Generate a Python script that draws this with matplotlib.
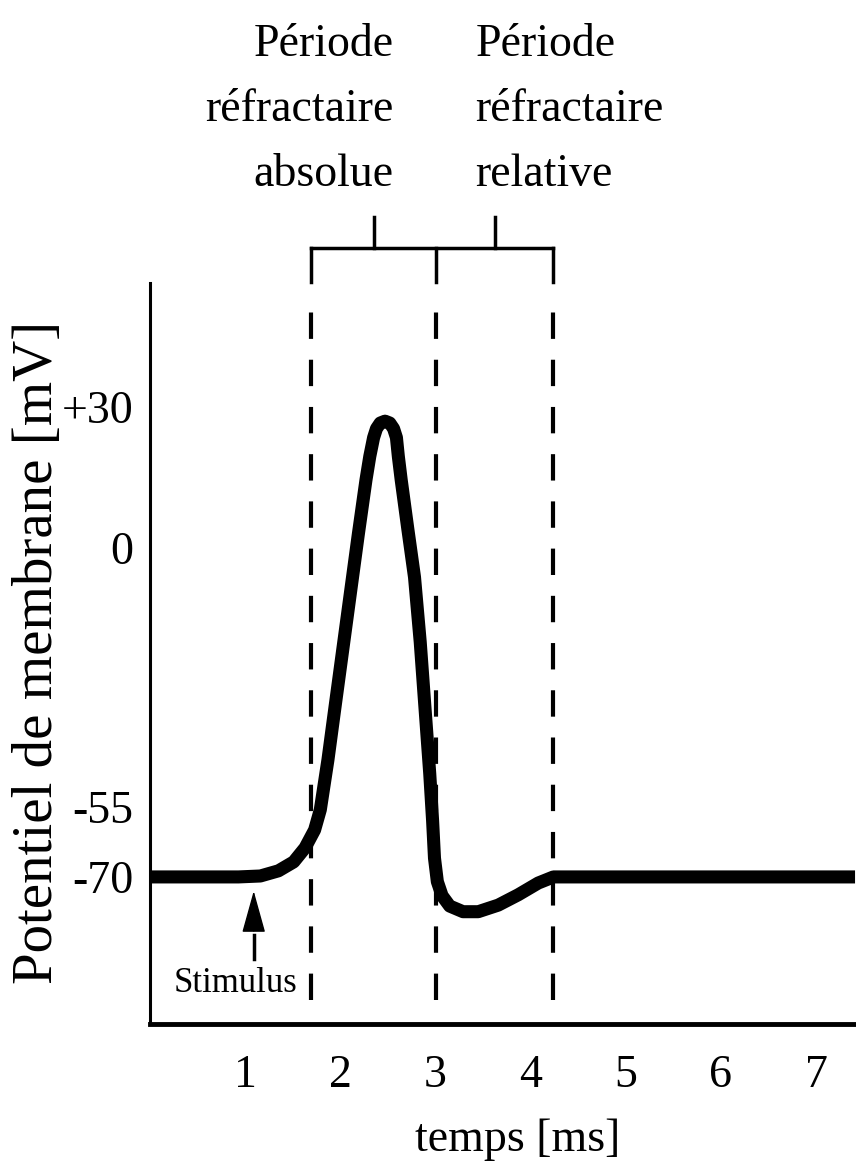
import numpy as np
import matplotlib
matplotlib.use("Agg")
import matplotlib.pyplot as plt

plt.rcParams['font.family'] = ['Liberation Serif', 'DejaVu Serif']
plt.rcParams['lines.scale_dashes'] = False

# potentiel d'action
temps = [0.0, 0.93, 1.16, 1.35, 1.51, 1.63, 1.73, 1.79, 1.87, 1.95, 2.03, 2.11, 2.19,
         2.27, 2.31, 2.35, 2.38, 2.42, 2.47, 2.52, 2.56, 2.59, 2.61, 2.64, 2.71, 2.78, 2.84, 2.89,
         2.94, 2.97, 2.99, 3.02, 3.07, 3.15, 3.29, 3.45, 3.66, 3.87, 4.08, 4.24, 7.41]
potentiel = [-70, -70, -69.8, -68.7, -66.8, -63.8, -60.0, -55.7, -45.1, -33.0, -21.0, -9.0, 3.0,
             14.5, 19.5, 23.5, 25.4, 26.6, 27.0, 26.6, 25.4, 23.5, 19.5, 14.5, 4.0, -6.2, -20.0, -34.0,
             -48.0, -58.0, -66.0, -71.0, -74.0, -76.2, -77.4, -77.4, -76.0, -73.8, -71.3, -70, -70]

xticks = [1, 2, 3, 4, 5, 6, 7]
yticks = [-70, -55, 0, 30]
ytick_labels = ['-70', '-55', '0', '+30']

t_debut_absolue = 1.69
t_fin_absolue = 3.01
t_fin_relative = 4.24
t_stimulus = 1.09

fig = plt.figure(figsize=(8.56, 11.61), dpi=100)
ax = fig.add_axes([150/856, (1161-1024)/1161, (856-150)/856, (1024-283)/1161])
ax.set_xlim(0, 7.42)
ax.set_ylim(-101.3, 56.4)

ax.plot(temps, potentiel, color='k', lw=9.4, solid_joinstyle='round', solid_capstyle='butt', zorder=3)

# lignes pointillees des periodes
for t in [t_debut_absolue, t_fin_absolue, t_fin_relative]:
    ax.plot([t, t], [-96.2, 52.8], color='k', lw=3, linestyle=(0, (19, 15)), clip_on=False)

# accolade en haut
yb = 63.8
ax.plot([t_debut_absolue, t_fin_relative], [yb, yb], color='k', lw=2.5, clip_on=False)
for t in [t_debut_absolue, t_fin_absolue, t_fin_relative]:
    ax.plot([t, t], [yb, 56.6], color='k', lw=2.5, clip_on=False)
for t in [(t_debut_absolue + t_fin_absolue) / 2, (t_fin_absolue + t_fin_relative) / 2]:
    ax.plot([t, t], [yb, 70.4], color='k', lw=2.5, clip_on=False)

ax.text(2.56, 93.3, "Période\nréfractaire\nabsolue", ha='right', va='center',
        multialignment='right', fontsize=33, linespacing=1.7, clip_on=False)
ax.text(3.42, 93.3, "Période\nréfractaire\nrelative", ha='left', va='center',
        multialignment='left', fontsize=33, linespacing=1.7, clip_on=False)

# stimulus
ax.plot([t_stimulus, t_stimulus], [-87.5, -82.3], color='k', lw=2.5)
ax.annotate('', xy=(t_stimulus, -73.0), xytext=(t_stimulus, -81.5),
            arrowprops=dict(arrowstyle='-|>,head_length=2.7,head_width=0.75',
                            mutation_scale=10, color='k', lw=1, shrinkA=0, shrinkB=0))
ax.text(0.896, -92.6, "Stimulus", ha='center', va='center', fontsize=25)

ax.spines['top'].set_visible(False)
ax.spines['right'].set_visible(False)
ax.spines['left'].set_linewidth(2.2)
ax.spines['bottom'].set_linewidth(3.5)

ax.set_xticks(xticks)
ax.set_xticklabels([str(v) for v in xticks])
ax.set_yticks(yticks)
ax.set_yticklabels(ytick_labels)
ax.tick_params(axis='both', length=0, labelsize=33)
ax.tick_params(axis='x', pad=22)
ax.tick_params(axis='y', pad=12)

fig.text(518/856, 1 - 1140/1161, "temps [ms]", ha='center', va='center', fontsize=33)
fig.text(38/856, 1 - 652/1161, "Potentiel de membrane [mV]", ha='center', va='center',
         rotation=90, fontsize=41)

fig.savefig("out.png", dpi=100, facecolor='white')
